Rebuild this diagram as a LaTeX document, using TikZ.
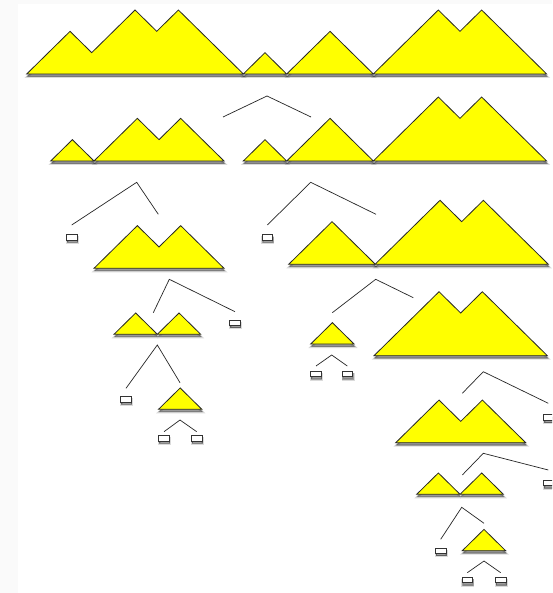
\documentclass[tikz,border=0pt]{standalone}
\usetikzlibrary{shadows}
\definecolor{bggray}{HTML}{FAFAFA}
\definecolor{mtnyellow}{HTML}{FFFF00}
\def\ux{21.67}
\def\uy{21.33}
\tikzset{
  softshadow/.style={
    preaction={fill=black,draw=black,line width=2.4pt,opacity=0.14,
      transform canvas={xshift=0.6pt,yshift=-2.8pt}},
    preaction={fill=black,draw=black,line width=0.8pt,opacity=0.28,
      transform canvas={xshift=0.6pt,yshift=-2.4pt}}},
  mtn/.style={softshadow, draw=black!85, fill=mtnyellow, line width=0.8pt, line join=miter},
  leaf/.style={softshadow, rectangle, draw=black!80, fill=white, line width=0.6pt,
    minimum width=10.5pt, minimum height=5.5pt, inner sep=0pt},
  conn/.style={draw=black!85, line width=0.7pt},
}
\newcommand\mtn[3]{\path[mtn] (#1,#2) \foreach \s in {#3}{ -- ++(\ux,{-\uy*(\s)}) } -- cycle;}
\newcommand\connector[7]{\coordinate (#1a) at (#2,#3); \coordinate (#1t) at (#4,#5);
  \coordinate (#1b) at (#6,#7); \draw[conn] (#1a) -- (#1t) -- (#1b);}
\begin{document}
\begin{tikzpicture}[x=1pt,y=-1pt]
\useasboundingbox (0,0) rectangle (552,593);
\fill[bggray] (0,0) rectangle (552,593);
\fill[white] (18,4) rectangle (552,593);
\clip (0,0) rectangle (552,593);
% row 1
\mtn{26.7}{74}{1,1,-1,1,1,-1,1,-1,-1,-1}
\mtn{243.3}{74}{1,-1}
\mtn{286.7}{74}{1,1,-1,-1}
\mtn{373.3}{74}{1,1,1,-1,1,-1,-1,-1}
% row 2
\mtn{50.7}{161}{1,-1}
\mtn{94}{161}{1,1,-1,1,-1,-1}
\mtn{243.3}{161}{1,-1}
\mtn{286.7}{161}{1,1,-1,-1}
\mtn{373.3}{161}{1,1,1,-1,1,-1,-1,-1}
% row 3
\mtn{94}{268.3}{1,1,-1,1,-1,-1}
\mtn{288.7}{264.3}{1,1,-1,-1}
\mtn{375}{264.3}{1,1,1,-1,1,-1,-1,-1}
% row 4
\mtn{114}{334.3}{1,-1,1,-1}
\mtn{310.7}{344}{1,-1}
\mtn{374}{355.7}{1,1,1,-1,1,-1,-1,-1}
% row 5
\mtn{158.5}{409.3}{1,-1}
\mtn{395.7}{442.7}{1,1,-1,1,-1,-1}
% row 6
\mtn{416.7}{494.3}{1,-1,1,-1}
% row 7
\mtn{462.3}{550.7}{1,-1}
% connectors
\connector{c1}{223}{117}{267}{96}{311}{117}
\connector{c2}{71.7}{225}{136.7}{182.3}{158.3}{214.3}
\connector{c3}{267.3}{225}{310.7}{182.3}{376}{214.3}
\connector{c4}{153.3}{312.7}{169.3}{279.3}{235}{311.7}
\connector{c5}{332.3}{312.7}{375.7}{279.3}{413.3}{297.7}
\connector{c6}{126}{388.3}{157.3}{345}{180}{382.7}
\connector{c7}{164}{431.7}{180}{420}{196.7}{431.7}
\connector{c8}{316}{366}{331.7}{355}{347.3}{366}
\connector{c9}{462.3}{393.3}{483.3}{371.7}{548.3}{403.3}
\connector{c10}{462.3}{475}{483.3}{453.3}{548.3}{470}
\connector{c11}{440.7}{539.3}{461.7}{507.3}{484}{523.3}
\connector{c12}{467.3}{572.7}{484}{561}{500.7}{572.7}
% leaves
\node[leaf] (b1) at (72,237.3) {};
\node[leaf] (b2) at (267.3,237.3) {};
\node[leaf] (b3) at (235,322.7) {};
\node[leaf] (b4) at (126,399.3) {};
\node[leaf] (b5) at (164,438.3) {};
\node[leaf] (b6) at (196.7,438.3) {};
\node[leaf] (b7) at (316,373.8) {};
\node[leaf] (b8) at (347.5,373.8) {};
\node[leaf] (b9) at (549,417.5) {};
\node[leaf] (b10) at (549,483) {};
\node[leaf] (b11) at (440.7,550.7) {};
\node[leaf] (b12) at (467.3,580) {};
\node[leaf] (b13) at (500.7,580) {};
\end{tikzpicture}
\end{document}
